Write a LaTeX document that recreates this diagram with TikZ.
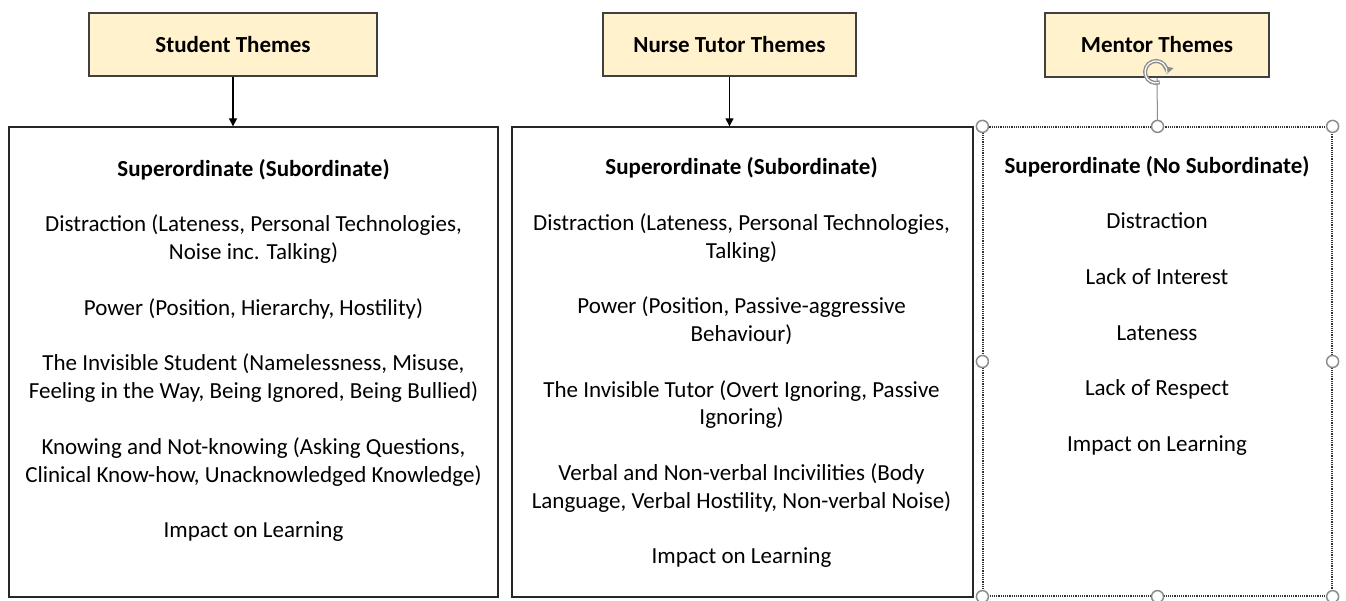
\documentclass[tikz,border=0pt]{standalone}
\usepackage{fontspec}
\setmainfont{Carlito}
\usetikzlibrary{arrows.meta}
\definecolor{hdrfill}{HTML}{FFF2CC}
\definecolor{hdrline}{HTML}{404040}
\definecolor{boxline}{HTML}{262626}
\definecolor{hdlgray}{HTML}{8C8C8C}
\begin{document}
\begin{tikzpicture}[x=1pt,y=-1pt,
  hdr/.style={draw=hdrline, fill=hdrfill, line width=1.3pt, inner sep=0pt,
    font=\bfseries\fontsize{23}{27.8}\selectfont},
  mainbox/.style={draw=boxline, line width=1.3pt, inner sep=0pt},
  selbox/.style={draw=black!80, densely dotted, line width=1.2pt, inner sep=0pt},
  body/.style={align=center, inner sep=0pt, anchor=north,
    font=\fontsize{23}{27.8}\selectfont},
  arr/.style={line width=1.2pt, -{Triangle[length=8pt,width=8pt]}},
  handle/.style={circle, draw=hdlgray, fill=white, line width=1.5pt,
    minimum size=12pt, inner sep=0pt}]
\useasboundingbox (0,0) rectangle (1346,601);
\fill[white] (0,0) rectangle (1346,601);

% headers
\node[hdr, minimum width=288pt, minimum height=63pt] (sh) at (233,44.5) {Student Themes};
\node[hdr, minimum width=253pt, minimum height=63pt] (nh) at (729.5,44.5) {Nurse Tutor Themes};
\node[hdr, minimum width=224pt, minimum height=64pt] (mh) at (1157,45) {Mentor Themes};

% main boxes
\node[mainbox, minimum width=489pt, minimum height=470pt] (sb) at (253.5,362) {};
\node[mainbox, minimum width=461pt, minimum height=470pt] (nb) at (742.5,362) {};
\node[selbox, minimum width=349pt, minimum height=469pt] (mb) at (1157.5,361.5) {};

% texts
\node[body] (st) at (253.5,159) {\textbf{Superordinate (Subordinate)}\\[27.8pt]
Distraction (Lateness, Personal Technologies,\\ Noise inc. Talking)\\[27.8pt]
Power (Position, Hierarchy, Hostility)\\[27.8pt]
The Invisible Student (Namelessness, Misuse,\\ Feeling in the Way, Being Ignored, Being Bullied)\\[27.8pt]
Knowing and Not-knowing (Asking Questions,\\ Clinical Know-how, Unacknowledged Knowledge)\\[27.8pt]
Impact on Learning};

\node[body] (nt) at (741.5,157.5) {\textbf{Superordinate (Subordinate)}\\[27.8pt]
Distraction (Lateness, Personal Technologies,\\ Talking)\\[27.8pt]
Power (Position, Passive-aggressive\\ Behaviour)\\[27.8pt]
The Invisible Tutor (Overt Ignoring, Passive\\ Ignoring)\\[27.8pt]
Verbal and Non-verbal Incivilities (Body\\ Language, Verbal Hostility, Non-verbal Noise)\\[27.8pt]
Impact on Learning};

\node[body] (mt) at (1157,156) {\textbf{Superordinate (No Subordinate)}\\[27.8pt]
Distraction\\[27.8pt]
Lack of Interest\\[27.8pt]
Lateness\\[27.8pt]
Lack of Respect\\[27.8pt]
Impact on Learning};

% connectors
\draw[arr] (sh.south) -- (sh.south |- sb.north);
\draw[arr] (nh.south) -- (nh.south |- nb.north);
\draw[hdlgray, line width=1pt, -{Triangle[length=5pt,width=7pt,black]}] (mh.south) -- (mb.north);

% rotation handle
\coordinate (rot) at (1156,72);
\draw[hdlgray, line width=4pt, -{Triangle[length=7pt,width=11pt]}] (rot) ++(-290:11) arc[start angle=-290, end angle=10, radius=11];
\draw[white, line width=1.2pt] (rot) ++(-286:11) arc[start angle=-286, end angle=8, radius=11];

% selection handles
\node[handle] (h1) at (mb.north west) {};
\node[handle] (h2) at (mb.north) {};
\node[handle] (h3) at (mb.north east) {};
\node[handle] (h4) at (mb.west) {};
\node[handle] (h5) at (mb.east) {};
\node[handle] (h6) at (mb.south west) {};
\node[handle] (h7) at (mb.south) {};
\node[handle] (h8) at (mb.south east) {};
\end{tikzpicture}
\end{document}
